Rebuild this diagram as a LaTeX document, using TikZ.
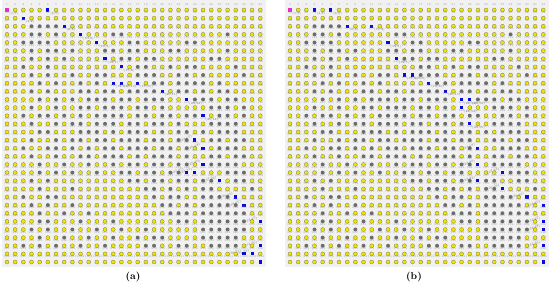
\documentclass[tikz,border=0pt]{standalone}
\usetikzlibrary{positioning}

\definecolor{panelbg}{RGB}{241,241,241}
\definecolor{freeyellow}{RGB}{240,228,0}
\definecolor{freerim}{RGB}{120,120,80}
\definecolor{wallgray}{RGB}{108,108,108}
\definecolor{pathblue}{RGB}{10,10,220}
\definecolor{startpink}{RGB}{222,50,200}
\definecolor{numgray}{RGB}{155,155,155}
\definecolor{tipgray}{RGB}{110,110,110}

\tikzset{
    dotY/.style={draw=freerim, fill=freeyellow, line width=0.25pt},
    dotG/.style={fill=wallgray},
    dotB/.style={rectangle, fill=pathblue, inner sep=0pt, minimum size=2.7pt},
    dotM/.style={rectangle, fill=startpink, inner sep=0pt, minimum size=2.7pt},
    numlbl/.style={font=\fontsize{2.4}{2.4}\selectfont, text=numgray,
        inner sep=0pt},
    tiplbl/.style={font=\fontsize{2.6}{2.6}\selectfont, text=tipgray,
        inner sep=0.3pt},
    caplbl/.style={font=\fontsize{8.5}{10}\selectfont\bfseries}
}

% path cells of a panel: panel, row, column, kind (B or M)
\newcommand\markpath[4]{\expandafter\xdef\csname pth@#1@#2@#3\endcsname{#4}}

% one row of the grid: panel, x of first column, row number, cells
\newcount\gcol
\makeatletter
\newcommand\gridrow[4]{%
    \def\gr@pn{#1}\def\gr@xo{#2}\edef\gr@rn{#3}\gcol=0
    \pgfmathsetmacro\gr@y{10+(\gr@rn-1)*8.13}%
    \expandafter\gr@loop#4\@nil}
\def\gr@loop#1{%
    \ifx#1\@nil\else
        \advance\gcol by 1
        \pgfmathsetmacro\gr@x{\gr@xo+(\the\gcol-1)*8.17}%
        \edef\gr@num{\number\numexpr(\gr@rn-1)*32+\gcol\relax}%
        \ifcsname pth@\gr@pn @\gr@rn @\the\gcol\endcsname
            \edef\gr@kind{\csname pth@\gr@pn @\gr@rn @\the\gcol\endcsname}%
            \node[dot\gr@kind] (\gr@pn-\gr@rn-\the\gcol) at (\gr@x,\gr@y) {};
        \else
            \path[dot#1] (\gr@x,\gr@y) circle[radius=1.7pt];
        \fi
        \node[numlbl] at (\gr@x,\gr@y-5.4) {\gr@num};
        \expandafter\gr@loop
    \fi}
\makeatother

% obstacle map, shared by both panels (Y free, G blocked)
\def\maprows{%
 1/YYYYYYYY YYYYYYYY YYYYYYYY YYYYYYYY,
 2/YYYYYYYY YYYYYYYY YYYYYYYY YYYYYYYY,
 3/YYYGGGGY YYYYYYYY YYYYYYYY YYYYYYYY,
 4/YYYGGYGY YYYYYGGY YYYYYYYY YYYGYYYY,
 5/YYGGGGYY YYYYYYYG GYYYYYGG YYYYYYYY,
 6/YYYGYGGY GYYYGGYG GYYYGGYY YYYGYYYY,
 7/YYYGYGYG YYYYYYGG YGGYYYYY YGGYYYYY,
 8/YYGYYGYY YYYYYYYY GGYYGYGG YYYYGYYY,
 9/YYYGYGYY GYYGGYYY GGGYYGGY GYYYYGYY,
10/YYYYGYGY YGYGYYYY YYGGYGGG GYGYYYYY,
11/YYYGYGYY YGGYGGYG GGGYYGGY GYGGYYYY,
12/YYYYGYGY GYGGGYGG YGGGYYYG GGYGGYYY,
13/YYYGYYGY YGGYGGGY GGYGYYYY YGGGYGYY,
14/YYGYGGYG YGYGGGGY GGYGGYGG YYGGYGYY,
15/YYYGYYGY GGYGGGYG GYGGYGYY YGGGGYYY,
16/YYYYGGYY YGGGYGYG GGYGYGGY GYGGGYYY,
17/YYYGYYGY GGYGGYGG GYGGYGGY YGGYGGYY,
18/YYGYYGGY GYGYGGYG GGYGGYGY YYGGGYYY,
19/YYYGYYGY YGGYGGGY GYGGGYGY YGGYGGYY,
20/YYYYGYYG YYGYYGYG GYGGYGGY YGGGGYYY,
21/YYYYGYGY GYYGYYGG YGGYGGYY YYYGGGYY,
22/YYYGYGYY YYYYYYYG GYGGYGGY GGYYGGYY,
23/YYYYGYYY GYYYYYYY YGGYGYGY GGYYYYGY,
24/YYGYYGGY YYYYYYYY YYGYGGYY GGGGYYYY,
25/YYYGYGYY GYYYYYYY YYYGGYGY GGGGGYYY,
26/YYYYGYYG YYGYYYYY YYYYGGGY GGGGGGYY,
27/YYYYGGYY YGYYYGYY YYYYYGGY GGGGGGYY,
28/YYYGYGYY GYYGYYGY YGYYYYYY GGGGGGYY,
29/YYYYGYYG YYGYYGYY GYGGYYYY GGGGGYYY,
30/YYGYGYGY YGYYGYYY YGGYYGGY YGGGGYYY,
31/YYYYYYYY YYYYYYYY YYYYYYYY YYYYYYYY,
32/YYYYYYYY YYYYYYYY YYYYYYYY YYYYYYYY}

\begin{document}
\begin{tikzpicture}[x=0.03cm, y=-0.03cm]
\useasboundingbox (0,0) rectangle (550,288);

% panels
\fill[panelbg] (2,0) rectangle (266,267);
\fill[panelbg] (285,0) rectangle (549,267);

% path cells
\foreach \r/\c/\k in {1/1/M, 1/6/B, 2/3/B, 3/8/B, 4/10/B, 5/12/B, 7/13/B,
    8/15/B, 10/14/B, 10/15/B, 10/17/B, 11/20/B, 12/23/B, 14/25/B, 17/24/B,
    18/25/B, 20/25/B, 21/23/B, 21/24/B, 22/27/B, 24/29/B, 25/30/B, 27/32/B,
    30/32/B, 31/30/B, 31/31/B, 32/32/B}
  {\markpath{a}{\r}{\c}{\k}}
\foreach \r/\c/\k in {1/1/M, 1/4/B, 1/6/B, 3/8/B, 3/11/B, 5/13/B, 7/14/B,
    9/15/B, 9/16/B, 10/18/B, 11/20/B, 12/22/B, 12/23/B, 13/22/B, 15/23/B,
    18/24/B, 20/24/B, 21/27/B, 22/24/B, 23/27/B, 24/30/B, 25/32/B, 27/32/B,
    28/32/B, 30/32/B, 32/32/B}
  {\markpath{b}{\r}{\c}{\k}}

% ---- (a) ----
\foreach \r/\cells in \maprows
  {\gridrow{a}{7}{\r}{\cells}}

% ---- (b) ----
\foreach \r/\cells in \maprows
  {\gridrow{b}{290}{\r}{\cells}}

% path notes, upper part
\foreach \p/\r/\c in {a/1/1, a/1/6, a/2/3, a/3/8, a/4/10, a/5/12, a/7/13,
    a/8/15, a/10/14, a/10/15, a/10/17, a/11/20, a/12/23, a/14/25,
    b/1/1, b/1/4, b/1/6, b/3/8, b/3/11, b/5/13, b/7/14, b/9/15, b/9/16,
    b/10/18, b/11/20, b/12/22, b/12/23, b/13/22, b/15/23}
  \node[tiplbl, anchor=north west] (t\p-\r-\c) at (\p-\r-\c.south east) {(\c,\r)};

% path notes, lower part
\foreach \p/\r/\c in {a/17/24, a/18/25, a/20/25, a/21/23, a/21/24, a/22/27,
    a/24/29, a/25/30, a/27/32, a/30/32, a/31/30, a/31/31,
    b/18/24, b/20/24, b/21/27, b/22/24, b/23/27, b/24/30, b/25/32, b/27/32,
    b/28/32, b/30/32}
  \node[tiplbl, anchor=south east, rotate=20] (t\p-\r-\c) at (\p-\r-\c.north west) {(\c,\r)};

% captions
\node[caplbl] (capa) at (133,277) {(a)};
\node[caplbl] (capb) at (414,277) {(b)};

\end{tikzpicture}
\end{document}
